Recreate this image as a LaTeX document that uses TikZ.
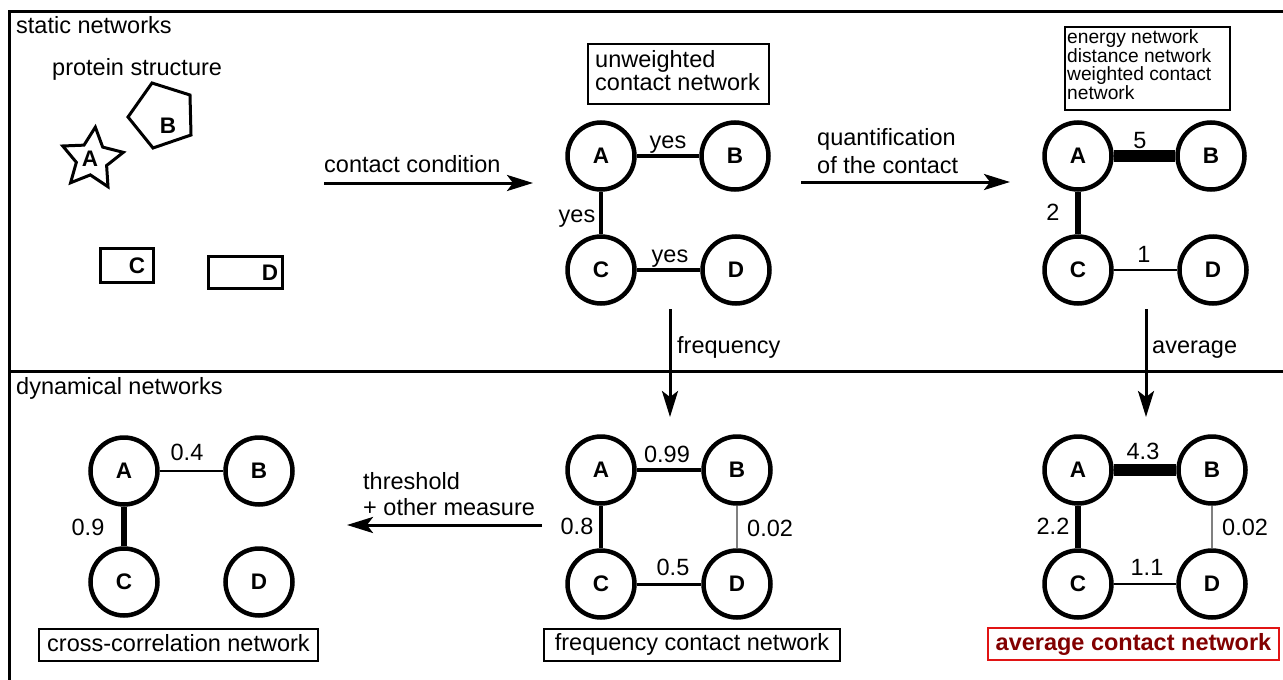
\documentclass[tikz,border=0pt]{standalone}
\usepackage{fontspec}
\setmainfont{Liberation Sans}
\usetikzlibrary{arrows.meta}
\newcommand\myfs[1]{\fontsize{#1}{#1}\selectfont}
\definecolor{boxred}{RGB}{225,20,20}
\definecolor{txtred}{RGB}{130,0,0}
\begin{document}
\begin{tikzpicture}[x=1pt,y=-1pt,
  nd/.style={circle,draw,line width=4.5pt,minimum size=67pt,inner sep=0pt,font=\bfseries\myfs{22.5}},
  txt/.style={inner sep=0pt,font=\myfs{23.5}},
  lab/.style={inner sep=0pt,font=\myfs{23.5},anchor=base},
  arr/.style={line width=3pt,-{Stealth[length=26pt,width=16pt,inset=6pt]}},
  frame/.style={line width=3pt},
  shp/.style={line width=3pt,line join=miter},
  shplab/.style={inner sep=0pt,font=\bfseries\myfs{22.5}},
  titlebox/.style={draw,line width=2pt,inner sep=0pt,minimum height=32pt,text height=16.5pt,text depth=4.5pt,font=\myfs{23.5}},
  ethin/.style={line width=1.2pt,draw=black!50},
  ewa/.style={line width=2.5pt},
  ewb/.style={line width=3pt},
  ewc/.style={line width=4.5pt},
  ewd/.style={line width=5.5pt},
  ewe/.style={line width=12pt},
]
\useasboundingbox (0,0) rectangle (1283,680);

% frame
\draw[frame] (9.5,680) -- (9.5,11.5) -- (1283,11.5);
\draw[frame] (8,371) -- (1283,371);
\node[txt,anchor=base west] (tstatic) at (16,33) {static networks};
\node[txt,anchor=base west] (tdyn) at (16,394) {dynamical networks};

% protein structure
\node[txt,anchor=base west] (tprot) at (52,75) {protein structure};
\begin{scope}[shift={(92,159)}]
\draw[shp] (-84:32) -- (-48:16) -- (-12:32) -- (24:16) -- (60:32) -- (96:16) -- (132:32) -- (168:16) -- (204:32) -- (240:16) -- cycle;
\end{scope}
\node[shplab] (pA) at (90,159) {A};
\draw[shp] (152,83) -- (190,95) -- (191,135) -- (153,148) -- (128,117) -- cycle;
\node[shplab] (pB) at (168,126) {B};
\draw[shp] (100,248) rectangle (153,282);
\node[shplab] (pC) at (137,266) {C};
\draw[shp] (208,256) rectangle (282,288);
\node[shplab] (pD) at (270,273) {D};

% arrows
\coordinate (a1s) at (324,183); \coordinate (a1e) at (533,183);
\draw[arr] (a1s) -- (a1e);
\node[txt,anchor=base west] (t1) at (324,172) {contact condition};
\coordinate (a2s) at (801,182); \coordinate (a2e) at (1010,182);
\draw[arr] (a2s) -- (a2e);
\node[txt,anchor=base west] (t2a) at (817,145) {quantification};
\node[txt,anchor=base west] (t2b) at (817,173) {of the contact};
\coordinate (a3s) at (670,309); \coordinate (a3e) at (670,417);
\draw[arr] (a3s) -- (a3e);
\node[txt,anchor=base west] (t3) at (677,353) {frequency};
\coordinate (a4s) at (1146,309); \coordinate (a4e) at (1146,417);
\draw[arr] (a4s) -- (a4e);
\node[txt,anchor=base west] (t4) at (1152,353) {average};
\coordinate (a5s) at (542,525); \coordinate (a5e) at (347,525);
\draw[arr] (a5s) -- (a5e);
\node[txt,anchor=base west] (t5a) at (363,489) {threshold};
\node[txt,anchor=base west] (t5b) at (363,515) {+ other measure};

% unweighted contact network
\node[draw,line width=2pt,minimum width=181pt,minimum height=60pt,anchor=north west,inner sep=0pt] (ubox) at (587,43) {};
\node[anchor=north west,inner sep=0pt,align=left,font=\fontsize{23.5}{23}\selectfont] (ubtxt) at (595,50.5) {unweighted\\contact network};
\node[nd] (uA) at (601,156) {A};
\node[nd] (uB) at (735,156) {B};
\node[nd] (uC) at (601,270) {C};
\node[nd] (uD) at (736,270) {D};
\draw[ewc] (uA) -- (uB);
\draw[ewc] (uA) -- (uC);
\draw[ewc] (uC) -- (uD);
\node[lab] (luAB) at (668,148) {yes};
\node[lab] (luAC) at (577,222) {yes};
\node[lab] (luCD) at (670,262) {yes};

% weighted networks
\node[draw,line width=2pt,minimum width=165pt,minimum height=83pt,anchor=north west,inner sep=0pt] (wbox) at (1064,26) {};
\node[anchor=north west,inner sep=0pt,align=left,font=\fontsize{19.2}{18.7}\selectfont] (wbtxt) at (1067,29.4) {energy network\\distance network\\weighted contact\\network};
\node[nd] (wA) at (1078,156) {A};
\node[nd] (wB) at (1211,156) {B};
\node[nd] (wC) at (1078,270) {C};
\node[nd] (wD) at (1213,270) {D};
\draw[ewe] (wA) -- (wB);
\draw[ewd] (wA) -- (wC);
\draw[ewa] (wC) -- (wD);
\node[lab] (lwAB) at (1140,148) {5};
\node[lab] (lwAC) at (1053,220) {2};
\node[lab] (lwCD) at (1144,262) {1};

% cross-correlation network
\node[nd] (cA) at (124,471) {A};
\node[nd] (cB) at (259,471) {B};
\node[nd] (cC) at (124,582) {C};
\node[nd] (cD) at (259,582) {D};
\draw[ewa] (cA) -- (cB);
\draw[ewd] (cA) -- (cC);
\node[lab] (lcAB) at (187,460) {0.4};
\node[lab] (lcAC) at (88,535) {0.9};
\node[titlebox,minimum width=279pt] (cbox) at (178.5,645) {cross-correlation network};

% frequency contact network
\node[nd] (fA) at (601,470) {A};
\node[nd] (fB) at (737,470) {B};
\node[nd] (fC) at (601,584) {C};
\node[nd] (fD) at (737,584) {D};
\draw[ewc] (fA) -- (fB);
\draw[ewc] (fA) -- (fC);
\draw[ewb] (fC) -- (fD);
\draw[ethin] (fB) -- (fD);
\node[lab] (lfAB) at (667,462) {0.99};
\node[lab] (lfAC) at (577,534) {0.8};
\node[lab,anchor=base west] (lfBD) at (747,536) {0.02};
\node[lab] (lfCD) at (673,575) {0.5};
\node[titlebox,minimum width=296pt] (fbox) at (692,644.5) {frequency contact network};

% average contact network
\node[nd] (vA) at (1078,470) {A};
\node[nd] (vB) at (1212,470) {B};
\node[nd] (vC) at (1078,584) {C};
\node[nd] (vD) at (1212,584) {D};
\draw[ewe] (vA) -- (vB);
\draw[ewd] (vA) -- (vC);
\draw[ewa] (vC) -- (vD);
\draw[ethin] (vB) -- (vD);
\node[lab] (lvAB) at (1143,459) {4.3};
\node[lab] (lvAC) at (1053,534) {2.2};
\node[lab,anchor=base west] (lvBD) at (1222,535) {0.02};
\node[lab] (lvCD) at (1147,575) {1.1};
\node[titlebox,minimum width=291pt,draw=boxred,text=txtred,font=\bfseries\myfs{23.5}] (vbox) at (1133.5,644) {average contact network};
\end{tikzpicture}
\end{document}
